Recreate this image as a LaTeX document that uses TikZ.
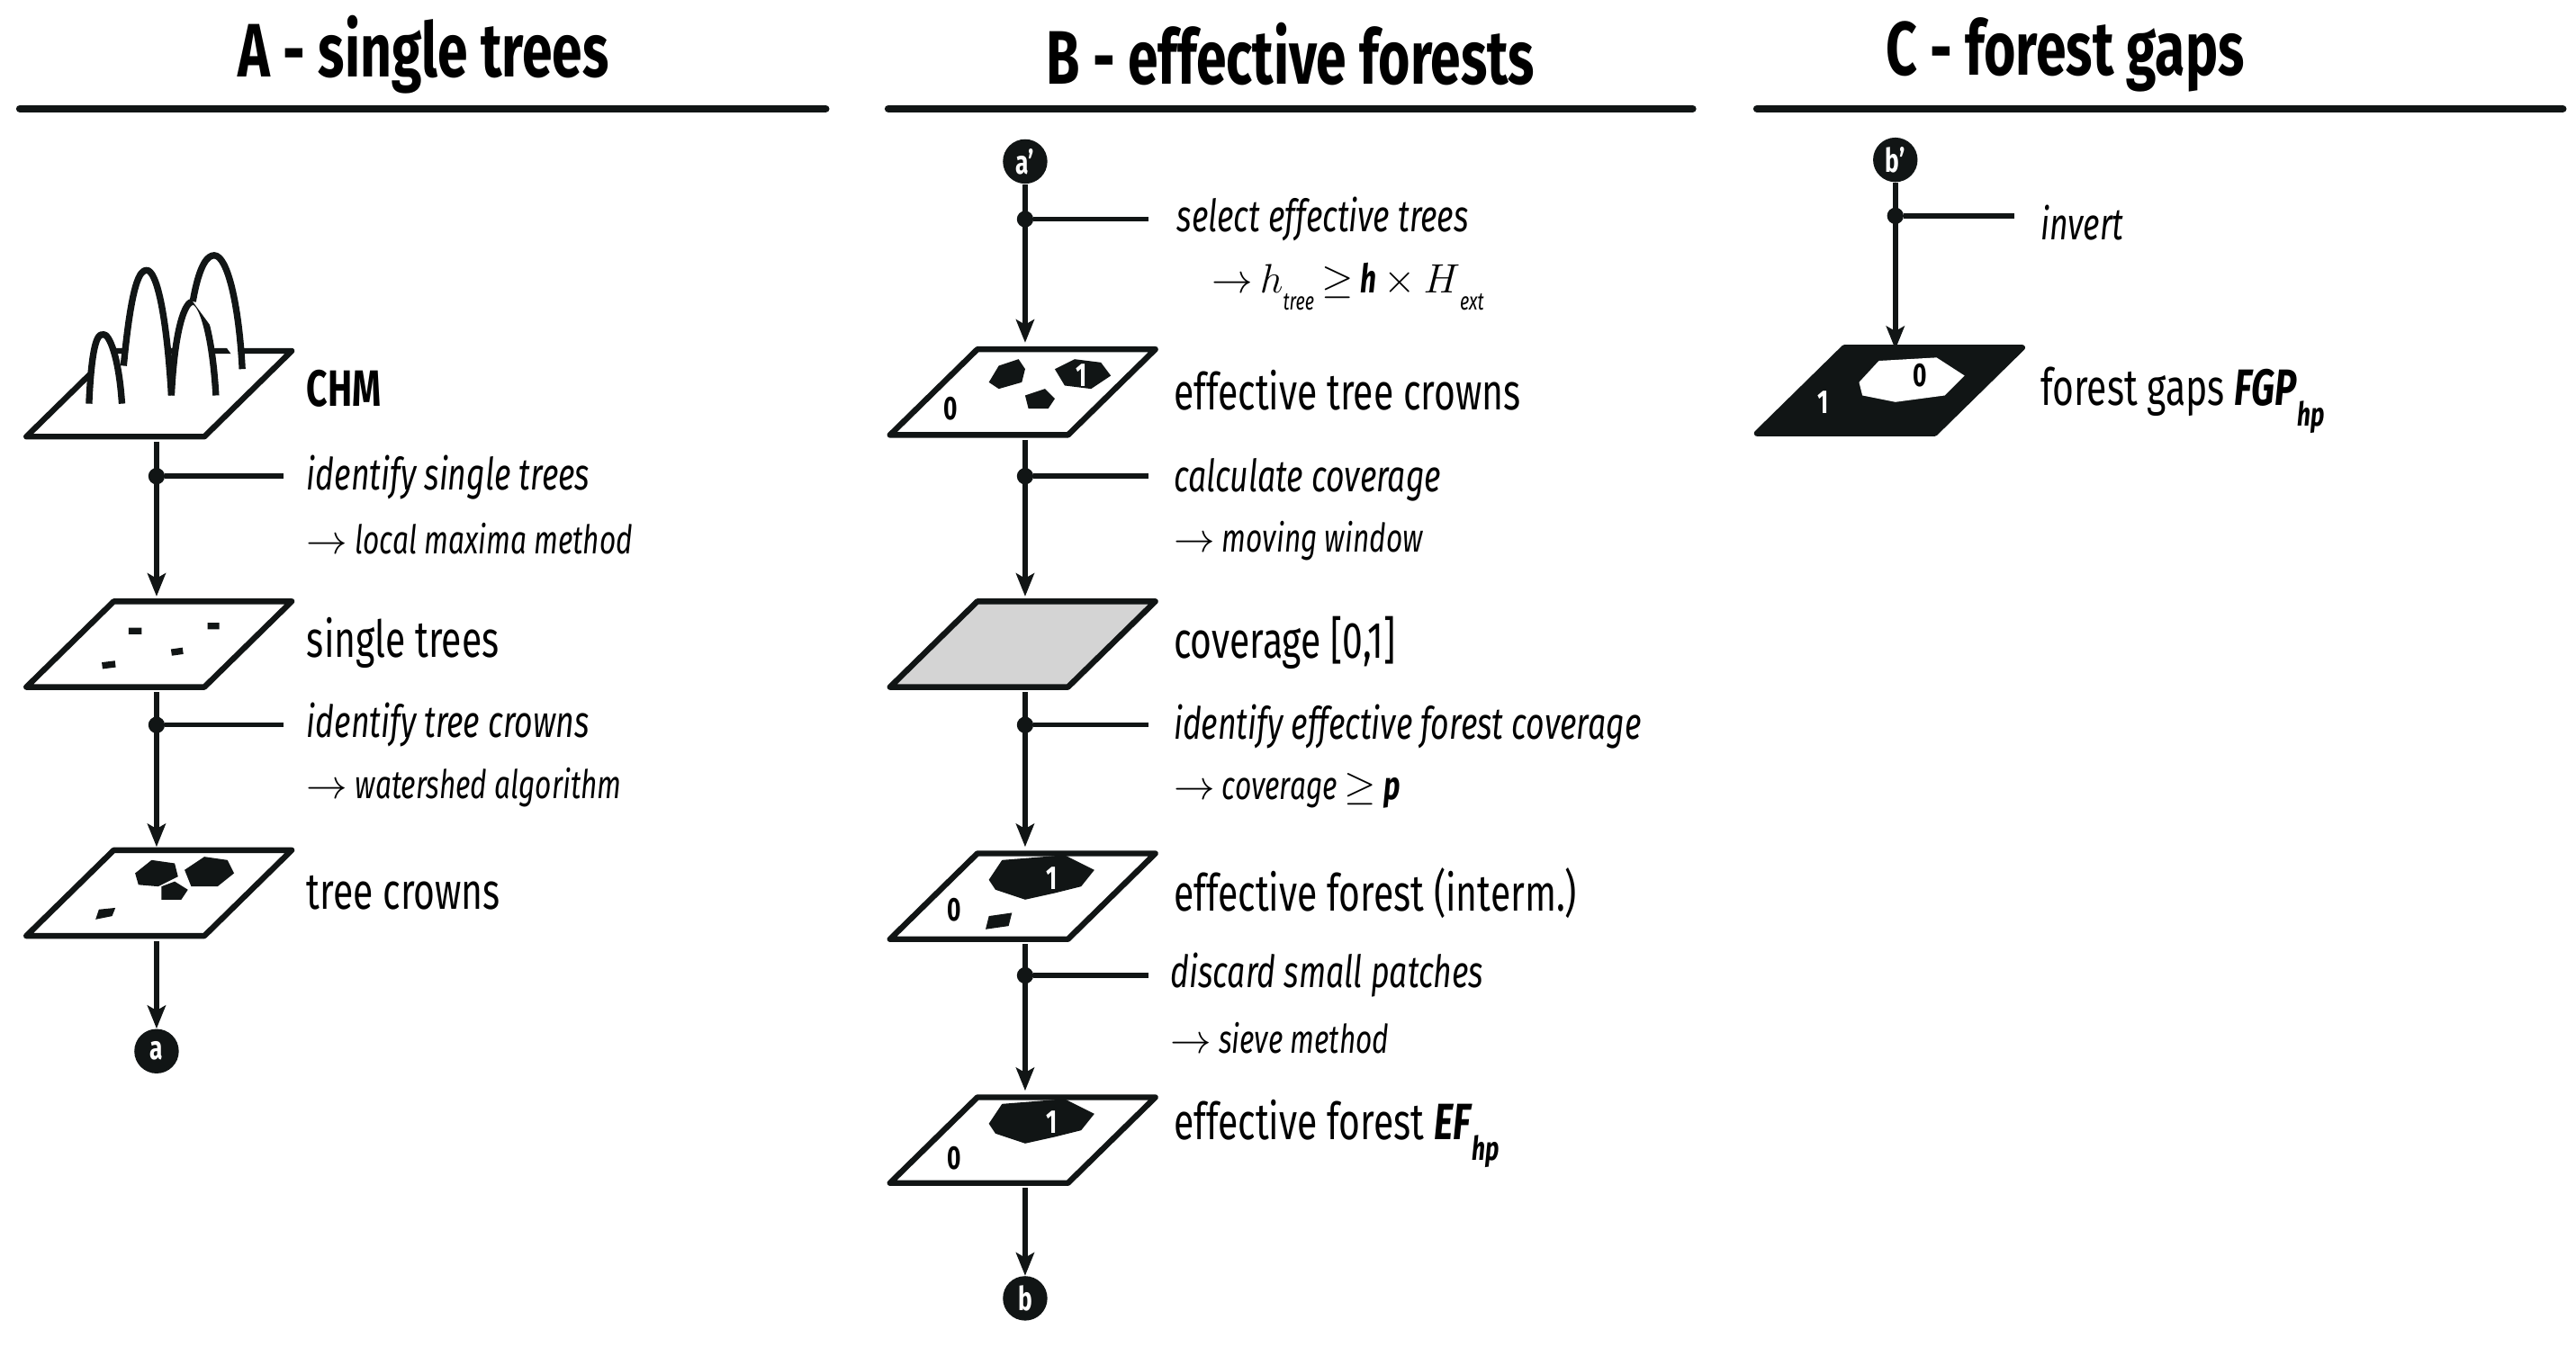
\documentclass[tikz,border=0pt]{standalone}
\usepackage{fontspec}
\setmainfont{Fira Sans}[FakeStretch=0.72]
\usetikzlibrary{arrows.meta}
\definecolor{ink}{HTML}{111515}
\begin{document}
\begin{tikzpicture}[x=1pt,y=-1pt,
  ln/.style={draw=ink,line width=3.5pt,line join=round},
  fl/.style={draw=ink,line width=3pt,-{Stealth[inset=3pt,length=14pt,width=11pt]}},
  br/.style={draw=ink,line width=3pt},
  dot/.style={circle,fill=ink,inner sep=0pt,minimum size=10pt},
  term/.style={circle,fill=ink,inner sep=0pt,minimum size=27pt,text=white,font=\fontsize{20}{20}\selectfont\bfseries},
  head/.style={font=\fontsize{46}{46}\selectfont\bfseries,anchor=center},
  lay/.style={font=\fontsize{31}{31}\selectfont,anchor=west,inner sep=0pt},
  op/.style={font=\fontsize{27}{27}\selectfont\itshape,anchor=west,inner sep=0pt},
  sub/.style={font=\fontsize{24}{24}\selectfont\itshape,anchor=west,inner sep=0pt},
  num/.style={font=\fontsize{20}{20}\selectfont\bfseries,inner sep=0pt}]
\useasboundingbox (0,0) rectangle (1563,817);
\def\plane#1#2#3{\path[ln,fill=#3] (#1,#2) -- ++(108,0) -- ++(53,-52) -- ++(-108,0) -- cycle;}
% headings
\node[head] (hA) at (257,33) {A - single trees};
\node[head] (hB) at (783,33) {B - effective forests};
\node[head] (hC) at (1253,33) {C - forest gaps};
\draw[line width=4.5pt,ink,line cap=round] (12,66) -- (501,66) (539,66) -- (1027,66) (1066,66) -- (1555,66);
% ===== A =====
\plane{16}{265}{white}
\begin{scope}[ln,fill=white,line width=4pt]
\draw[fill=white] (54,245) .. controls (56,200) and (61,203) .. (63,203) .. controls (66,203) and (72,215) .. (74,245);
\draw[fill=white] (75,222) .. controls (80,170) and (85,164) .. (89,164) .. controls (95,164) and (101,190) .. (104,240);
\draw[fill=white] (104,240) .. controls (106,200) and (112,183) .. (117,183) .. controls (123,183) and (129,205) .. (131,240);
\draw[fill=white] (117,183) .. controls (121,160) and (126,155) .. (130,155) .. controls (138,155) and (145,185) .. (147,224);
\end{scope}
\node[lay,font=\fontsize{31}{31}\selectfont\bfseries] (chm) at (186,236) {CHM};
\plane{16}{417}{white}
\draw[ink,line width=4pt] (78,383)--(86,383) (126,380)--(133,380) (104,396)--(111,395) (62,404)--(70,403);
\node[lay] (st) at (186,390) {single trees};
\plane{16}{568}{white}
\fill[ink] (82,530)--(92,522)--(106,524)--(108,532)--(96,538)--(84,537)--cycle;
\fill[ink] (112,528)--(124,520)--(138,522)--(142,530)--(132,538)--(116,538)--cycle;
\fill[ink] (98,538)--(106,535)--(114,540)--(110,546)--(98,546)--cycle;
\fill[ink] (60,552)--(70,551)--(68,556)--(58,558)--cycle;
\node[lay] (tc) at (186,542) {tree crowns};
\coordinate (a1) at (95,268); \coordinate (a2) at (95,362);
\coordinate (a3) at (95,420); \coordinate (a4) at (95,514);
\coordinate (a5) at (95,571);
\node[term] (a) at (95,638) {a};
\draw[fl] (a1) -- (a2);
\node[dot] (d1) at (95,289) {}; \draw[br] (d1) -- (172,289);
\node[op] (o1) at (186,290) {identify single trees};
\node[sub] (s1) at (186,327) {\(\rightarrow\) local maxima method};
\draw[fl] (a3) -- (a4);
\node[dot] (d2) at (95,440) {}; \draw[br] (d2) -- (172,440);
\node[op] (o2) at (186,440) {identify tree crowns};
\node[sub] (s2) at (186,478) {\(\rightarrow\) watershed algorithm};
\draw[fl] (a5) -- (a.north);
% ===== B =====
\node[term] (ap) at (622,98) {a'};
\node[dot] (e1) at (622,133) {}; \draw[br] (e1) -- (697,133);
\coordinate (b1) at (622,208);
\draw[fl] (ap.south) -- (b1);
\node[op] (p1) at (714,133) {select effective trees};
\node[sub] (q1) at (735,174) {\(\rightarrow\) \(h\)\raisebox{-0.45em}{\fontsize{15}{15}\selectfont tree} \(\geq\) \textbf{h} \(\times\) \(H\)\raisebox{-0.45em}{\fontsize{15}{15}\selectfont ext}};
\plane{540}{264}{white}
\fill[ink] (600,232)--(606,222)--(618,218)--(622,224)--(620,232)--(606,236)--cycle;
\fill[ink] (640,224)--(652,218)--(668,220)--(674,228)--(662,236)--(646,234)--cycle;
\fill[ink] (622,240)--(634,236)--(640,242)--(636,248)--(624,248)--cycle;
\node[num] at (577,248) {0}; \node[num,text=white] at (656,228) {1};
\node[lay] (l1) at (712,237) {effective tree crowns};
\draw[fl] (622,267) -- (622,362);
\node[dot] (e2) at (622,289) {}; \draw[br] (e2) -- (697,289);
\node[op] (p2) at (712,291) {calculate coverage};
\node[sub] (q2) at (712,328) {\(\rightarrow\) moving window};
\plane{540}{417}{black!17}
\node[lay] (l2) at (712,390) {coverage [0,1]};
\draw[fl] (622,420) -- (622,514);
\node[dot] (e3) at (622,440) {}; \draw[br] (e3) -- (697,440);
\node[op] (p3) at (712,441) {identify effective forest coverage};
\node[sub] (q3) at (712,480) {\(\rightarrow\) coverage \(\geq\) \textbf{p}};
\plane{540}{570}{white}
\fill[ink] (600,534)--(608,522)--(646,519)--(664,528)--(656,538)--(640,542)--(622,546)--(604,540)--cycle;
\fill[ink] (600,556)--(614,554)--(612,562)--(598,564)--cycle;
\node[num] at (579,552) {0}; \node[num,text=white] at (638,533) {1};
\node[lay] (l3) at (712,542) {effective forest (interm.)};
\draw[fl] (622,573) -- (622,662);
\node[dot] (e4) at (622,592) {}; \draw[br] (e4) -- (697,592);
\node[op] (p4) at (710,592) {discard small patches};
\node[sub] (q4) at (710,630) {\(\rightarrow\) sieve method};
\plane{540}{718}{white}
\fill[ink] (600,682)--(608,670)--(646,667)--(664,676)--(656,686)--(640,690)--(622,694)--(604,688)--cycle;
\node[num] at (579,703) {0}; \node[num,text=white] at (638,681) {1};
\node[lay] (l4) at (712,688) {effective forest \textbf{\textit{EF}}\raisebox{-0.4em}{\fontsize{20}{20}\selectfont\bfseries\itshape hp}};
\node[term] (b) at (622,788) {b};
\draw[fl] (622,721) -- (b.north);
% ===== C =====
\node[term] (bp) at (1150,97) {b'};
\node[dot] (c1) at (1150,131) {}; \draw[br] (c1) -- (1222,131);
\node[op] (r1) at (1238,135) {invert};
\draw[fl] (bp.south) -- (1150,212);
\plane{1066}{263}{ink}
\fill[white] (1128,232)--(1140,219)--(1175,217)--(1192,228)--(1180,240)--(1150,244)--(1130,240)--cycle;
\node[num] at (1165,228) {0}; \node[num,text=white] at (1106,244) {1};
\node[lay] (lc) at (1238,243) {forest gaps \textbf{\textit{FGP}}\raisebox{-0.4em}{\fontsize{20}{20}\selectfont\bfseries\itshape hp}};
\end{tikzpicture}
\end{document}
